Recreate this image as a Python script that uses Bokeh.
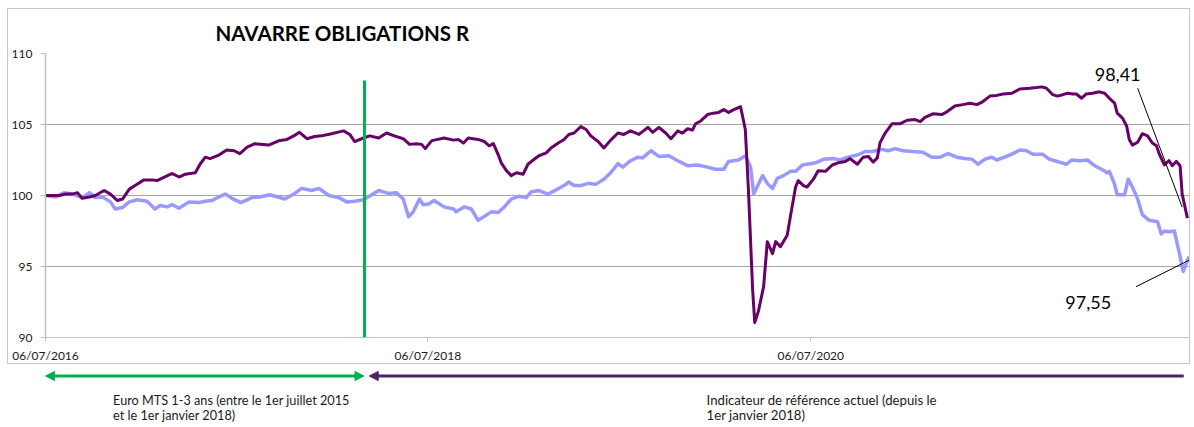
import numpy as np
import pandas as pd
from bokeh.plotting import figure
from bokeh.layouts import column
from bokeh.models import (Range1d, FixedTicker, DatetimeTickFormatter, Arrow,
                          NormalHead, Label, InlineStyleSheet)
from bokeh.embed import file_html
from bokeh.resources import INLINE

# ---------------- data ----------------
START = "2016-07-06"
title_text = "NAVARRE OBLIGATIONS R"

# fund (days since start, value)
purple_day = [0, 27, 38, 51, 61, 70, 84, 95, 112, 124,
              137, 147, 160, 171, 188, 204, 213, 227, 242, 255,
              267, 286, 295, 305, 314, 331, 346, 360, 371, 385,
              400, 426, 445, 461, 474, 485, 499, 514, 527, 546,
              569, 581, 590, 607, 619, 636, 651, 666, 683, 695,
              708, 718, 725, 737, 742, 761, 779, 788, 798, 807,
              826, 838, 847, 855, 864, 870, 880, 889, 899, 912,
              921, 933, 942, 956, 965, 979, 990, 999, 1009, 1022,
              1032, 1041, 1055, 1066, 1079, 1093, 1104, 1117, 1133, 1150,
              1159, 1171, 1184, 1194, 1207, 1216, 1226, 1235, 1241, 1251,
              1264, 1275, 1285, 1295, 1304, 1314, 1327, 1336, 1342, 1350,
              1354, 1361, 1371, 1378, 1388, 1394, 1403, 1416, 1422, 1432,
              1437, 1447, 1454, 1466, 1475, 1489, 1502, 1513, 1527, 1536,
              1550, 1561, 1571, 1580, 1588, 1593, 1603, 1616, 1631, 1645,
              1660, 1670, 1679, 1694, 1711, 1721, 1736, 1751, 1765, 1778,
              1789, 1803, 1816, 1828, 1845, 1860, 1879, 1892, 1902, 1911,
              1923, 1932, 1942, 1951, 1961, 1968, 1978, 1987, 1999, 2012,
              2022, 2031, 2041, 2046, 2056, 2064, 2069, 2075, 2085, 2094,
              2104, 2113, 2121, 2126, 2136, 2145, 2151, 2159, 2166, 2170,
              2180]
purple_val = [100.0, 100.0, 100.1, 100.1, 100.2, 99.8, 99.9, 100.0, 100.35, 100.1,
              99.65, 99.75, 100.45, 100.7, 101.1, 101.1, 101.05, 101.3, 101.55, 101.3,
              101.5, 101.6, 102.2, 102.7, 102.6, 102.85, 103.2, 103.15, 102.95, 103.4,
              103.65, 103.55, 103.85, 103.95, 104.2, 104.45, 104.0, 104.15, 104.2, 104.35,
              104.55, 104.3, 103.8, 104.05, 104.2, 104.05, 104.4, 104.2, 104.0, 103.6,
              103.65, 103.6, 103.3, 103.85, 103.9, 104.05, 103.9, 103.95, 103.7, 104.05,
              103.95, 103.8, 103.5, 103.65, 102.9, 102.3, 101.75, 101.4, 101.6, 101.5,
              102.2, 102.55, 102.8, 103.0, 103.35, 103.7, 103.95, 104.3, 104.4, 104.85,
              104.65, 104.2, 103.8, 103.35, 103.9, 104.4, 104.3, 104.55, 104.3, 104.8,
              104.45, 104.8, 104.4, 104.0, 104.55, 104.4, 104.7, 104.6, 105.05, 105.25,
              105.7, 105.8, 105.85, 106.05, 105.85, 106.05, 106.25, 104.65, 100.35, 93.35,
              91.05, 91.85, 93.6, 96.75, 95.9, 96.75, 96.4, 97.2, 98.5, 100.6,
              101.05, 100.7, 100.6, 101.15, 101.75, 101.7, 102.15, 102.3, 102.4, 102.6,
              102.2, 102.7, 102.75, 102.35, 102.65, 103.7, 104.4, 105.05, 105.05, 105.3,
              105.35, 105.2, 105.5, 105.75, 105.7, 105.9, 106.3, 106.4, 106.5, 106.4,
              106.6, 107.0, 107.05, 107.15, 107.2, 107.5, 107.55, 107.6, 107.65, 107.55,
              107.1, 107.0, 107.1, 107.2, 107.15, 107.15, 106.85, 107.15, 107.2, 107.3,
              107.2, 106.85, 106.5, 105.8, 105.45, 104.9, 103.95, 103.55, 103.75, 104.35,
              104.2, 103.7, 103.5, 102.95, 102.15, 102.45, 102.1, 102.4, 102.1, 100.1,
              98.41]

# benchmark (days since start, value)
blue_day = [0, 20, 36, 51, 70, 84, 95, 109, 124, 133,
            147, 160, 175, 194, 209, 219, 232, 242, 255, 274,
            293, 305, 318, 331, 343, 356, 373, 394, 409, 428,
            457, 474, 489, 508, 522, 541, 560, 575, 590, 607,
            623, 636, 655, 670, 683, 693, 702, 714, 721, 731,
            742, 761, 779, 784, 800, 813, 826, 841, 851, 864,
            876, 889, 904, 918, 927, 942, 959, 975, 990, 999,
            1009, 1022, 1036, 1051, 1066, 1079, 1093, 1102, 1117, 1131,
            1140, 1156, 1171, 1190, 1207, 1226, 1245, 1264, 1279, 1295,
            1304, 1323, 1336, 1346, 1352, 1369, 1378, 1388, 1397, 1409,
            1422, 1432, 1445, 1454, 1470, 1485, 1504, 1517, 1532, 1550,
            1565, 1578, 1597, 1609, 1622, 1637, 1656, 1675, 1692, 1708,
            1723, 1740, 1755, 1769, 1780, 1793, 1807, 1816, 1831, 1847,
            1860, 1873, 1885, 1904, 1917, 1936, 1949, 1959, 1974, 1989,
            2003, 2016, 2027, 2031, 2041, 2046, 2060, 2067, 2075, 2085,
            2094, 2107, 2123, 2130, 2136, 2145, 2155, 2164, 2172, 2183]
blue_val = [100.0, 99.9, 100.2, 100.1, 99.85, 100.2, 99.85, 99.9, 99.55, 99.05,
            99.15, 99.55, 99.7, 99.6, 99.05, 99.3, 99.2, 99.35, 99.1, 99.55,
            99.5, 99.6, 99.65, 99.9, 100.1, 99.8, 99.5, 99.85, 99.9, 100.05,
            99.75, 100.1, 100.5, 100.35, 100.5, 100.0, 99.85, 99.55, 99.6, 99.7,
            100.05, 100.35, 100.15, 100.2, 99.75, 98.5, 98.85, 99.75, 99.35, 99.4,
            99.65, 99.2, 99.05, 98.85, 99.2, 99.05, 98.25, 98.6, 98.85, 98.8,
            99.2, 99.75, 99.95, 99.85, 100.25, 100.35, 100.1, 100.4, 100.7, 100.95,
            100.7, 100.7, 100.85, 100.8, 101.15, 101.6, 102.25, 102.0, 102.45, 102.7,
            102.65, 103.15, 102.75, 102.8, 102.45, 102.1, 102.15, 102.0, 101.85, 101.85,
            102.4, 102.5, 102.8, 102.0, 100.1, 101.4, 100.85, 100.5, 101.2, 101.4,
            101.7, 101.7, 102.15, 102.2, 102.3, 102.55, 102.6, 102.5, 102.7, 102.85,
            103.1, 103.1, 103.25, 103.15, 103.3, 103.15, 103.1, 103.05, 102.7, 102.7,
            102.95, 102.7, 102.6, 102.55, 102.2, 102.55, 102.7, 102.5, 102.7, 102.95,
            103.2, 103.15, 102.9, 102.9, 102.55, 102.35, 102.2, 102.5, 102.45, 102.5,
            102.1, 101.85, 101.6, 101.7, 100.8, 100.05, 100.05, 101.15, 100.6, 99.75,
            98.65, 98.25, 98.15, 97.3, 97.5, 97.45, 97.5, 96.05, 94.65, 95.7]

tick_dates = ["2016-07-06", "2018-07-06", "2020-07-06"]
y_ticks = [90, 95, 100, 105, 110]
switch_day = 609          # change of benchmark (green marker)
last_fund_label = "98,41"
last_bench_label = "97,55"
old_bench_lines = ["Euro MTS 1-3 ans (entre le 1er juillet 2015", "et le 1er janvier 2018)"]
new_bench_lines = ["Indicateur de référence actuel (depuis le", "1er janvier 2018)"]

# ---------------- helpers ----------------
start = pd.Timestamp(START)


def dates(days):
    return start + pd.to_timedelta(np.asarray(days), unit="D")


def ms(day):
    return (start + pd.Timedelta(days=day)).value / 1e6


PURPLE = "#660066"
BLUE = "#9999ff"
GREEN = "#00b050"
ARROW_PURPLE = "#4b2367"
FONT = "Lato"

x_range = Range1d(ms(0), ms(2184))

# ---------------- main chart ----------------
border_css = InlineStyleSheet(css=":host { border: 1px solid #c8c8c8; }")
p = figure(width=1183, height=356, x_axis_type="datetime", x_range=x_range,
           y_range=Range1d(90, 110), output_backend="svg", toolbar_location=None,
           min_border_left=35, min_border_right=2, min_border_top=43,
           min_border_bottom=27, title=title_text, margin=(8, 0, 0, 7),
           stylesheets=[border_css])
p.outline_line_color = None
p.title.align = "left"
p.title.offset = 170
p.title.standoff = 18
p.title.text_font = FONT
p.title.text_font_size = "20.5px"
p.title.text_font_style = "bold"
p.title.text_color = "#000000"

p.xgrid.visible = False
p.ygrid.grid_line_color = "#a6a6a6"
p.ygrid.grid_line_width = 1

p.yaxis.ticker = FixedTicker(ticks=y_ticks)
p.yaxis.axis_line_color = "#bfbfbf"
p.yaxis.axis_line_width = 1.5
p.yaxis.major_tick_line_color = "#bfbfbf"
p.yaxis.major_tick_out = 5
p.yaxis.major_tick_in = 0
p.yaxis.minor_tick_line_color = None
p.yaxis.major_label_standoff = 8
p.yaxis.major_label_text_font = FONT
p.yaxis.major_label_text_font_size = "12px"
p.yaxis.major_label_text_color = "#1a1a1a"

p.xaxis.ticker = FixedTicker(ticks=[pd.Timestamp(d).value / 1e6 for d in tick_dates])
fmt = "%d/%m/%Y"
p.xaxis.formatter = DatetimeTickFormatter(days=fmt, months=fmt, years=fmt, hours=fmt,
                                          hourmin=fmt, minutes=fmt, minsec=fmt,
                                          seconds=fmt, milliseconds=fmt,
                                          microseconds=fmt)
p.xaxis.axis_line_color = "#bfbfbf"
p.xaxis.major_tick_line_color = "#bfbfbf"
p.xaxis.major_tick_out = 4
p.xaxis.major_tick_in = 0
p.xaxis.minor_tick_line_color = None
p.xaxis.major_label_standoff = 6
p.xaxis.major_label_text_font = FONT
p.xaxis.major_label_text_font_size = "12px"
p.xaxis.major_label_text_color = "#1a1a1a"

p.line(dates(blue_day), blue_val, line_color=BLUE, line_width=3.5, line_join="round")
p.line(dates(purple_day), purple_val, line_color=PURPLE, line_width=3, line_join="round")
p.segment(x0=[ms(switch_day)], y0=[90], x1=[ms(switch_day)], y1=[108.1],
          line_color=GREEN, line_width=3)

# end-value callouts
p.segment(x0=[ms(2085), ms(2082)], y0=[107.56, 93.58],
          x1=[ms(2170), ms(2183)], y1=[99.18, 95.44],
          line_color="#000000", line_width=1)
p.add_layout(Label(x=ms(2003), y=108.5, text=last_fund_label, text_font=FONT,
                   text_font_size="18px", text_baseline="middle", text_color="#000000"))
p.add_layout(Label(x=ms(1947), y=92.5, text=last_bench_label, text_font=FONT,
                   text_font_size="18px", text_baseline="middle", text_color="#000000"))

# ---------------- arrows & notes below ----------------
q = figure(width=1183, height=60, x_range=x_range, y_range=Range1d(0, 60),
           x_axis_type=None, y_axis_type=None, output_backend="svg",
           toolbar_location=None, min_border_left=35, min_border_right=2,
           min_border_top=0, min_border_bottom=0, margin=(0, 0, 0, 8))
q.outline_line_color = None
q.grid.visible = False

q.add_layout(Arrow(start=NormalHead(size=9, fill_color=GREEN, line_color=GREEN),
                   end=NormalHead(size=9, fill_color=GREEN, line_color=GREEN),
                   x_start=ms(0), y_start=48.5, x_end=ms(608), y_end=48.5,
                   line_color=GREEN, line_width=3))
q.add_layout(Arrow(start=NormalHead(size=9, fill_color=ARROW_PURPLE, line_color=ARROW_PURPLE),
                   end=None, x_start=ms(618), y_start=48.5, x_end=ms(2173), y_end=48.5,
                   line_color=ARROW_PURPLE, line_width=3))

for i, txt in enumerate(old_bench_lines):
    q.add_layout(Label(x=ms(129), y=25 - 15 * i, text=txt, text_font=FONT,
                       text_font_size="12.7px", text_baseline="middle", text_color="#1a1a1a"))
for i, txt in enumerate(new_bench_lines):
    q.add_layout(Label(x=ms(1262), y=25 - 15 * i, text=txt, text_font=FONT,
                       text_font_size="13.2px", text_baseline="middle", text_color="#1a1a1a"))

layout = column(p, q, spacing=0)
open("out.html", "w").write(file_html(layout, INLINE))
